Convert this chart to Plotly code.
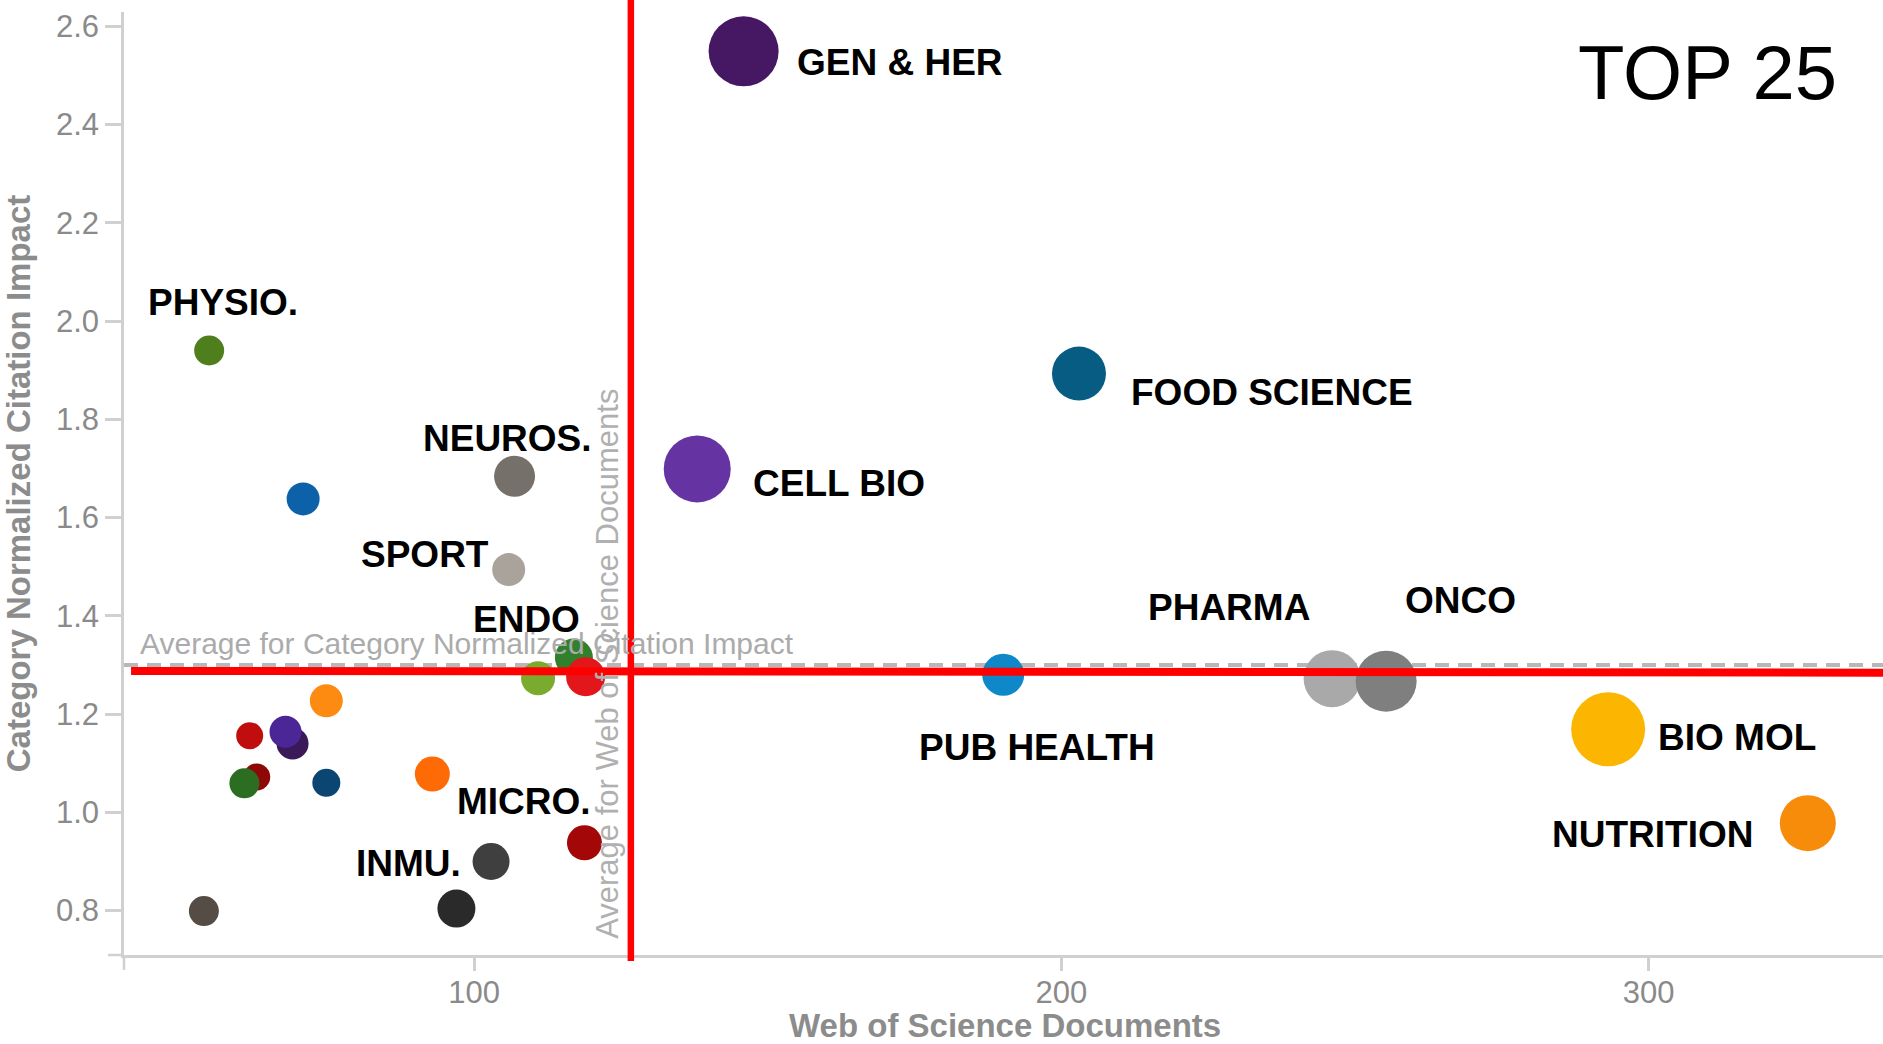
import plotly.graph_objects as go

# ---------------- data ----------------
categories = [
    "PHARMA", "ONCO", "GEN & HER", "FOOD SCIENCE", "CELL BIO", "PUB HEALTH",
    "BIO MOL", "NUTRITION", "PHYSIO.", "cat10", "NEUROS.", "SPORT", "ENDO",
    "cat14", "cat15", "cat16", "cat17", "cat18", "cat19", "cat20", "cat21",
    "cat22", "cat23", "MICRO.", "INMU.", "cat26", "cat27",
]
docs = [246.1, 255.3, 145.9, 203.0, 138.0, 190.1,
        293.1, 327.1, 54.9, 70.9, 106.9, 105.9, 117.0,
        110.9, 119.0, 74.85, 61.8, 69.1, 67.9, 63.0, 60.9,
        74.85, 92.9, 118.8, 102.9, 97.0, 54.0]
cnci = [1.272, 1.267, 2.549, 1.893, 1.699, 1.280,
        1.169, 0.978, 1.940, 1.638, 1.684, 1.494, 1.315,
        1.273, 1.276, 1.227, 1.156, 1.140, 1.164, 1.072, 1.059,
        1.060, 1.078, 0.938, 0.900, 0.804, 0.799]
bubble = [57, 61, 70, 54, 67, 42,
          74, 56, 30, 33, 41, 33, 38,
          34, 39, 33, 27, 32, 32, 27, 30,
          28, 35, 35, 37, 38, 30]
colors = ["#a9a9a9", "#7f7f7f", "#461763", "#075c84", "#6633a3", "#0e88c9",
          "#fcb500", "#f78c0b", "#4f7f1c", "#0c61a8", "#76706a", "#a9a39c", "#31802e",
          "#7aab2e", "#e2161b", "#fd8b12", "#c00d0d", "#3b1958", "#4b2696", "#8e0808", "#2b6e21",
          "#0a4671", "#fd6a06", "#a30707", "#3f3f3f", "#2a2a2a", "#554c45"]

x_ticks = [100, 200, 300]
y_ticks = [0.8, 1.0, 1.2, 1.4, 1.6, 1.8, 2.0, 2.2, 2.4, 2.6]

x_title = "Web of Science Documents"
y_title = "Category Normalized Citation Impact"

avg_cnci = 1.30          # grey dashed average line
avg_docs = 126.7         # average documents (vertical reference)
red_cnci = [1.2878, 1.2843]  # hand-drawn red horizontal line (left, right)
red_docs_start = 41.6

labeled = ["GEN & HER", "FOOD SCIENCE", "CELL BIO", "PUB HEALTH", "PHARMA", "ONCO",
           "BIO MOL", "NUTRITION", "PHYSIO.", "NEUROS.", "SPORT", "ENDO", "MICRO.", "INMU."]

# ---------------- label placement (pixel offsets, style only) ----------------
label_style = {
    "GEN & HER": (51.6, -11, "left"),
    "FOOD SCIENCE": (49.8, -18.5, "left"),
    "CELL BIO": (53.5, -14.5, "left"),
    "PUB HEALTH": (33.5, -73, "center"),
    "PHARMA": (-103.5, 71.5, "center"),
    "ONCO": (74.5, 80.5, "center"),
    "BIO MOL": (47.5, -8.5, "left"),
    "NUTRITION": (-53, -11.5, "right"),
    "PHYSIO.": (14, 48, "center"),
    "NEUROS.": (-7.4, 37.5, "center"),
    "SPORT": (-18, 15, "right"),
    "ENDO": (-47.6, 38, "center"),
    "MICRO.": (-60, 41.5, "center"),
    "INMU.": (-28.4, -2.5, "right"),
}

FONT = "Liberation Sans, Arial, Helvetica, sans-serif"
AXIS_GREY = "#d0d0d0"
TICK_GREY = "#8a8a8a"

fig = go.Figure()
fig.add_trace(go.Scatter(
    x=docs, y=cnci, mode="markers", text=categories,
    marker=dict(size=bubble, color=colors, opacity=1, line=dict(width=0)),
    cliponaxis=False, hoverinfo="text+x+y", showlegend=False,
))

# label annotations
annotations = []
IDX = {name: i for i, name in enumerate(categories)}
for name in labeled:
    i = IDX[name]
    dx, dy, anchor = label_style[name]
    annotations.append(dict(
        x=docs[i], y=cnci[i], xref="x", yref="y", text=name, showarrow=False,
        xanchor=anchor, yanchor="middle", xshift=dx, yshift=dy,
        font=dict(family=FONT, size=37, color="#000000", weight="bold"),
    ))

# average text labels
annotations.append(dict(
    x=0, y=avg_cnci, xref="paper", yref="y", xanchor="left", yanchor="middle",
    xshift=14, yshift=21, showarrow=False,
    text="Average for Category Normalized Citation Impact",
    font=dict(family=FONT, size=30, color="#ababab"),
))
annotations.append(dict(
    x=avg_docs, y=0, xref="x", yref="paper", xanchor="center", yanchor="bottom",
    xshift=-24, yshift=14, showarrow=False, textangle=-90,
    text="Average for Web of Science Documents",
    font=dict(family=FONT, size=31, color="#b0b0b0"),
))
# x-axis title
annotations.append(dict(
    x=0.5009, y=0, xref="paper", yref="paper", xanchor="center", yanchor="middle",
    yshift=-70, showarrow=False, text=x_title,
    font=dict(family=FONT, size=33, color="#8c8c8c", weight="bold"),
))
# TOP 25 heading
annotations.append(dict(
    x=0.9005, y=0.9358, xref="paper", yref="paper", xanchor="center", yanchor="middle",
    showarrow=False, text="TOP 25",
    font=dict(family=FONT, size=76, color="#000000"),
))

shapes = [
    # grey dashed average CNCI line
    dict(type="line", xref="paper", yref="y", x0=0, x1=1, y0=avg_cnci, y1=avg_cnci,
         line=dict(color="#b8b8b8", width=4, dash="14px,9px"), layer="below"),
    # axis line extensions (corner overhang)
    dict(type="line", xref="paper", yref="paper", x0=0, x1=0, ysizemode="pixel",
         yanchor=0, y0=0, y1=-15, line=dict(color=AXIS_GREY, width=2.5)),
    dict(type="line", xref="paper", yref="paper", y0=0, y1=0, xsizemode="pixel",
         xanchor=0, x0=0, x1=-16, line=dict(color=AXIS_GREY, width=2.5)),
    # red reference lines
    dict(type="line", xref="x", yref="paper", x0=avg_docs, x1=avg_docs, y0=-0.0064, y1=1.02,
         line=dict(color="#ff0000", width=6.5), layer="above"),
    dict(type="line", xref="x", yref="y", x0=red_docs_start, x1=339.9,
         y0=red_cnci[0], y1=red_cnci[1],
         line=dict(color="#ff0000", width=8), layer="above"),
]

fig.update_layout(
    width=1883, height=1044,
    margin=dict(l=124, r=0, t=12, b=89, autoexpand=False),
    paper_bgcolor="#ffffff", plot_bgcolor="#ffffff",
    showlegend=False,
    annotations=annotations, shapes=shapes,
    font=dict(family=FONT),
    xaxis=dict(
        range=[40.4, 339.9], tickvals=x_ticks, ticktext=[str(v) for v in x_ticks],
        automargin=False,
        showgrid=False, zeroline=False, showline=True, linecolor=AXIS_GREY, linewidth=2.5,
        ticks="outside", ticklen=13, tickwidth=2.5, tickcolor=AXIS_GREY,
        ticklabelstandoff=-5,
        tickfont=dict(family=FONT, size=31, color=TICK_GREY),
    ),
    yaxis=dict(
        range=[0.7096, 2.629], tickvals=y_ticks, ticktext=[f"{v:.1f}" for v in y_ticks],
        automargin=False,
        showgrid=False, zeroline=False, showline=True, linecolor=AXIS_GREY, linewidth=2.5,
        ticks="outside", ticklen=16, tickwidth=2.5, tickcolor=AXIS_GREY,
        tickfont=dict(family=FONT, size=31, color=TICK_GREY),
        title=dict(text=y_title, standoff=20,
                   font=dict(family=FONT, size=33, color="#8c8c8c", weight="bold")),
    ),
)

# remove the page's default 8px body margin so the figure fills the window exactly
fig.write_html("out.html", config={"displayModeBar": False},
               post_script="document.body.style.margin='0';")
